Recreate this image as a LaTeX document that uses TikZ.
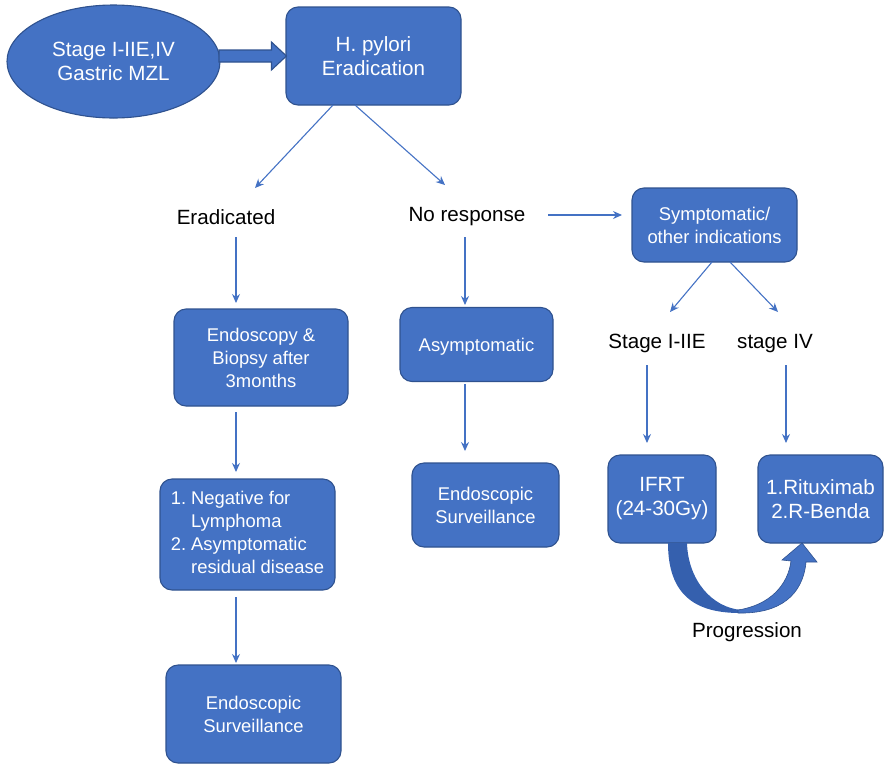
\documentclass[tikz,border=0pt]{standalone}
\usepackage{fontspec}
\setmainfont{Liberation Sans}
\usetikzlibrary{shapes.geometric,arrows.meta,calc}
\definecolor{mblue}{HTML}{4472C4}
\definecolor{mborder}{HTML}{2F528F}
\definecolor{mdark}{HTML}{3560AE}
\tikzset{
  box/.style={rectangle, rounded corners=12, fill=mblue, draw=mborder, line width=1.1,
    text=white, align=center, inner sep=2},
  fbig/.style={font=\fontsize{20.6}{24}\selectfont},
  fsmall/.style={font=\fontsize{18.4}{23}\selectfont},
  lab/.style={text=black, inner sep=0, font=\fontsize{20.6}{24}\selectfont, text height=14.8, text depth=0},
  conn/.style={draw=mblue, line width=1.1, -{Stealth[length=9,width=8]}}
}
\begin{document}
\begin{tikzpicture}[x=1pt,y=-1pt]
\useasboundingbox (0,0) rectangle (884,764);
% nodes
\node[ellipse, fill=mblue, draw=mborder, line width=1.1, text=white, align=center,
  minimum width=213, minimum height=113, fbig] (ell) at (113.5,61.5) {Stage I-IIE,IV\\Gastric MZL};
\node[box, fbig, minimum width=175, minimum height=98] (hp) at (373.5,56) {H. pylori\\Eradication};
\node[lab] (erad) at (226,217) {Eradicated};
\node[lab] (nores) at (467,214) {No response};
\node[box, fsmall, minimum width=165, minimum height=74] (sym) at (714.5,225) {Symptomatic/\\other indications};
\node[lab] (s12) at (657,341) {Stage I-IIE};
\node[lab] (s4) at (775,341) {stage IV};
\node[box, fbig, minimum width=108, minimum height=88] (ifrt) at (662,499) {IFRT\\(24-30Gy)};
\node[box, fbig, minimum width=125, minimum height=88] (ritux) at (820.5,499) {1.Rituximab\\2.R-Benda};
\node[lab] (prog) at (747,630) {Progression};
\node[box, fsmall, minimum width=174, minimum height=97] (endo) at (261,357.5) {Endoscopy \&\\Biopsy after\\3months};
\node[box, minimum width=175, minimum height=111, font=\fontsize{18.4}{22.7}\selectfont] (neg) at (247.5,534.5)
  {\renewcommand{\arraystretch}{1}\begin{tabular}{@{}l@{\hspace{5pt}}l@{}}1. & Negative for\\ & Lymphoma\\ 2. & Asymptomatic\\ & residual disease\end{tabular}};
\node[box, fsmall, minimum width=175, minimum height=98] (es1) at (253.5,714) {Endoscopic\\Surveillance};
\node[box, fsmall, text height=13.2, text depth=0, minimum width=153, minimum height=74] (asym) at (476.5,344.5) {Asymptomatic};
\node[box, fsmall, minimum width=147, minimum height=84] (es2) at (485.5,505) {Endoscopic\\Surveillance};
% block arrow
\filldraw[fill=mblue, draw=mborder, line width=1.1]
  ($(ell.center)+(105.5,-11.5)$) -- ($(hp.west)+(-14,-6)$) -- ($(hp.west)+(-14,-14)$) -- ($(hp.west)+(1,0)$)
  -- ($(hp.west)+(-14,14)$) -- ($(hp.west)+(-14,6)$) -- ($(ell.center)+(105.5,0.5)$) -- cycle;
% connectors
\draw[conn] ([shift={(-40.5,49)}]hp.center) -- ([shift={(29,-29)}]erad.center);
\draw[conn] ([shift={(-18.5,49)}]hp.center) -- ([shift={(-22,-29)}]nores.center);
\draw[conn] ([shift={(81,1)}]nores.center) -- ([shift={(-92.5,-10)}]sym.center);
\draw[conn] ([shift={(-2.5,37)}]sym.center) -- ([shift={(13,-29)}]s12.center);
\draw[conn] ([shift={(15.5,37)}]sym.center) -- ([shift={(3,-29)}]s4.center);
\draw[conn] ([shift={(-10,24)}]s12.center) -- ([shift={(-15,-56)}]ifrt.center);
\draw[conn] ([shift={(11,24)}]s4.center) -- ([shift={(-34.5,-56)}]ritux.center);
\draw[conn] ([shift={(10,20)}]erad.center) -- ([shift={(-25,-54.5)}]endo.center);
\draw[conn] ([shift={(-25,54.5)}]endo.center) -- ([shift={(-11.5,-62.5)}]neg.center);
\draw[conn] ([shift={(-11.5,62.5)}]neg.center) -- ([shift={(-17.5,-51)}]es1.center);
\draw[conn] ([shift={(-2,23)}]nores.center) -- ([shift={(-11.5,-39.5)}]asym.center);
\draw[conn] ([shift={(-11.5,39.5)}]asym.center) -- ([shift={(-20.5,-54)}]es2.center);
% curved progression arrow
\fill[mdark] (668,543) .. controls (668,595) and (695,613) .. (740,613)
  -- (742,610) .. controls (712,608) and (688,580) .. (687,543) -- cycle;
\filldraw[fill=mblue, draw=mborder, line width=0.6]
  (738,613) .. controls (780,614) and (803,595) .. (806,562) -- (817,562) -- (802,543)
  -- (782,560) -- (791,561) .. controls (788,585) and (770,605) .. (738,610) -- cycle;
\end{tikzpicture}
\end{document}
